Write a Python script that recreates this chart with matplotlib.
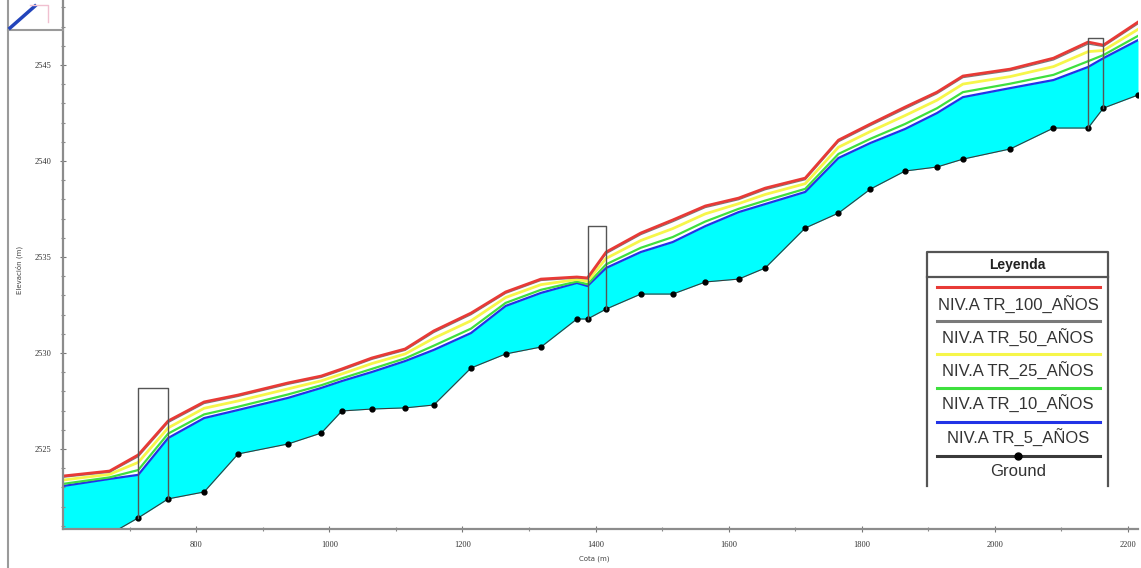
import matplotlib.pyplot as plt
import numpy as np

# cross sections (station along the channel, m)
cota = [600, 670, 713, 758, 812, 863, 938, 988, 1019, 1064, 1114, 1157, 1213,
        1265, 1318, 1372, 1388, 1416, 1468, 1516, 1565, 1615, 1655, 1715,
        1765, 1813, 1865, 1913, 1952, 2023, 2088, 2140, 2163, 2215]

ground = [2520.30, 2520.55, 2521.41, 2522.40, 2522.76, 2524.74, 2525.26,
          2525.83, 2526.98, 2527.08, 2527.14, 2527.29, 2529.22, 2529.95,
          2530.31, 2531.77, 2531.77, 2532.29, 2533.07, 2533.07, 2533.70,
          2533.85, 2534.43, 2536.51, 2537.29, 2538.54, 2539.48, 2539.69,
          2540.10, 2540.63, 2541.72, 2541.72, 2542.76, 2543.44]

ws_100 = [2523.59, 2523.85, 2524.69, 2526.46, 2527.45, 2527.81, 2528.44,
          2528.80, 2529.17, 2529.74, 2530.21, 2531.15, 2532.08, 2533.18,
          2533.85, 2533.96, 2533.91, 2535.26, 2536.25, 2536.93, 2537.66,
          2538.07, 2538.59, 2539.11, 2541.09, 2541.93, 2542.81, 2543.59,
          2544.43, 2544.79, 2545.36, 2546.20, 2546.04, 2547.24]

ws_50 = [2523.53, 2523.79, 2524.60, 2526.38, 2527.37, 2527.74, 2528.37,
         2528.73, 2529.10, 2529.67, 2530.14, 2531.07, 2532.00, 2533.11,
         2533.78, 2533.91, 2533.86, 2535.18, 2536.17, 2536.84, 2537.58,
         2537.99, 2538.51, 2539.03, 2541.01, 2541.85, 2542.72, 2543.51,
         2544.35, 2544.71, 2545.27, 2546.10, 2545.97, 2547.15]

ws_25 = [2523.38, 2523.68, 2524.30, 2526.10, 2527.12, 2527.50, 2528.13,
         2528.55, 2528.91, 2529.45, 2529.95, 2530.77, 2531.68, 2532.89,
         2533.56, 2533.83, 2533.74, 2534.93, 2535.86, 2536.48, 2537.25,
         2537.78, 2538.26, 2538.82, 2540.72, 2541.54, 2542.37, 2543.17,
         2544.01, 2544.40, 2544.92, 2545.70, 2545.76, 2546.86]

ws_10 = [2523.18, 2523.52, 2523.90, 2525.80, 2526.80, 2527.20, 2527.84,
         2528.32, 2528.68, 2529.17, 2529.72, 2530.38, 2531.27, 2532.61,
         2533.29, 2533.72, 2533.58, 2534.62, 2535.48, 2536.04, 2536.85,
         2537.51, 2537.94, 2538.55, 2540.37, 2541.16, 2541.93, 2542.75,
         2543.59, 2544.03, 2544.49, 2545.20, 2545.52, 2546.52]

ws_5 = [2523.07, 2523.44, 2523.65, 2525.57, 2526.61, 2527.03, 2527.66,
        2528.18, 2528.54, 2529.01, 2529.58, 2530.16, 2531.04, 2532.45,
        2533.13, 2533.65, 2533.49, 2534.43, 2535.26, 2535.78, 2536.61,
        2537.34, 2537.76, 2538.39, 2540.16, 2540.94, 2541.67, 2542.50,
        2543.33, 2543.80, 2544.22, 2544.90, 2545.36, 2546.30]

# bridges: upstream / downstream face and deck top
bridge_up = [713, 1388, 2140]
bridge_dn = [758, 1416, 2163]
bridge_top = [2528.2, 2536.6, 2546.4]

labels = ["NIV.A TR_100_AÑOS", "NIV.A TR_50_AÑOS", "NIV.A TR_25_AÑOS",
          "NIV.A TR_10_AÑOS", "NIV.A TR_5_AÑOS", "Ground"]
colors = ["#e83a36", "#7a7a7a", "#f6f64a", "#3ee03e", "#2233e6", "#3a3a3a"]

fig = plt.figure(figsize=(11.41, 5.68), dpi=100)
ax = fig.add_axes([63 / 1141, 1 - 529 / 568, 1075 / 1141, 529 / 568])

ax.fill_between(cota, ground, ws_5, color="#00ffff", lw=0)
series = [ws_100, ws_50, ws_25, ws_10, ws_5]
widths = [2.0, 1.0, 2.0, 1.6, 1.6]
for s, c, w in reversed(list(zip(series, colors[:5], widths))):
    ax.plot(cota, s, color=c, lw=w)
ax.plot(cota, ground, color=colors[5], lw=0.8, marker="o", ms=3.5,
        mfc="black", mec="black")

gnd = dict(zip(cota, ground))
for up, dn, top in zip(bridge_up, bridge_dn, bridge_top):
    ax.plot([up, up, dn, dn], [gnd[up], top, top, gnd[dn]], color="#555555", lw=1)

ax.set_xlim(600, 2215)
ax.set_ylim(2520.83, 2548.39)
ax.set_xticks(np.arange(800, 2201, 200))
ax.set_xticks(np.arange(700, 2201, 100), minor=True)
ax.set_yticks(np.arange(2525, 2546, 5))
ax.set_yticks(np.arange(2521, 2549, 1), minor=True)
for s in ["top", "right"]:
    ax.spines[s].set_visible(False)
for s in ["left", "bottom"]:
    ax.spines[s].set_color("#8c8c8c")
    ax.spines[s].set_linewidth(1.6)
ax.tick_params(which="major", direction="inout", length=5, width=0.8,
               color="#777777", labelsize=6, pad=6)
ax.tick_params(which="minor", direction="inout", length=3, width=0.8,
               color="#888888")
for t in ax.get_xticklabels() + ax.get_yticklabels():
    t.set_family("Liberation Serif")
    t.set_color("#333333")
fig.text(594 / 1141, 1 - 559 / 568, "Cota (m)", fontsize=5, ha="center",
         va="center", color="#444444")
fig.text(19 / 1141, 1 - 270 / 568, "Elevación (m)", fontsize=5, rotation=90,
         ha="center", va="center", color="#444444")

# overlay in pixel units for the frame pieces and the legend box
ov = fig.add_axes([0, 0, 1, 1], facecolor="none")
ov.set_xlim(0, 1141)
ov.set_ylim(568, 0)
ov.axis("off")
ov.plot([8, 8], [0, 568], color="#9a9a9a", lw=1.5)
ov.plot([8, 63], [30, 30], color="#9a9a9a", lw=1.5)
ov.plot([10, 35], [28, 6], color="#2244bb", lw=2.5)
ov.plot([30, 48, 48], [5, 5, 22], color="#f0c0d0", lw=1)

lx0, lx1 = 927, 1108
ov.plot([lx0, lx0, lx1, lx1], [486, 252, 252, 486], color="#555555", lw=1.6)
ov.plot([lx0, lx1], [277, 277], color="#555555", lw=1.6)
ov.text((lx0 + lx1) / 2, 265, "Leyenda", fontsize=10, fontweight="bold",
        family="Liberation Sans", ha="center", va="center", color="#222222")
line_y = [287, 321, 354, 388, 422, 456]
text_y = [305, 338, 371, 404, 438, 471]
for lab, c, yl, yt in zip(labels, colors, line_y, text_y):
    ov.plot([937, 1100], [yl, yl], color=c, lw=2.2)
    ov.text(1018, yt, lab, fontsize=12, family="Liberation Sans",
            ha="center", va="center", color="#333333")
ov.plot([1018], [456], marker="o", ms=5, color="black")

fig.savefig("out.png", dpi=100)
